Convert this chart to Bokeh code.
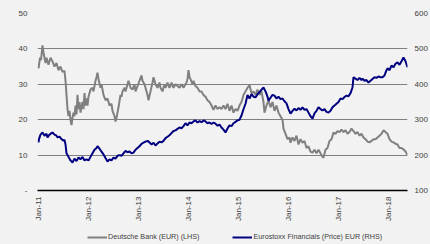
from math import pi
from bokeh.plotting import figure
from bokeh.layouts import column
from bokeh.models import Range1d, LinearAxis, FixedTicker, Legend, LegendItem
from bokeh.embed import file_html
from bokeh.resources import INLINE

# ---- data (decimal years) ----
db_t = [2011.00, 2011.02, 2011.03, 2011.05, 2011.08, 2011.10, 2011.14, 2011.16, 2011.20, 2011.24,
        2011.28, 2011.32, 2011.36, 2011.40, 2011.44, 2011.48, 2011.52, 2011.54, 2011.56, 2011.58,
        2011.60, 2011.62, 2011.64, 2011.66, 2011.68, 2011.70, 2011.72, 2011.74, 2011.76, 2011.78,
        2011.80, 2011.82, 2011.84, 2011.88, 2011.90, 2011.92, 2011.94, 2011.96, 2011.98, 2012.00,
        2012.04, 2012.08, 2012.10, 2012.14, 2012.16, 2012.18, 2012.20, 2012.24, 2012.26, 2012.30,
        2012.34, 2012.38, 2012.42, 2012.46, 2012.48, 2012.52, 2012.54, 2012.56, 2012.58, 2012.60,
        2012.64, 2012.66, 2012.68, 2012.72, 2012.74, 2012.78, 2012.80, 2012.84, 2012.88, 2012.92,
        2012.94, 2012.98, 2013.02, 2013.06, 2013.08, 2013.12, 2013.14, 2013.18, 2013.20, 2013.24,
        2013.28, 2013.30, 2013.34, 2013.38, 2013.42, 2013.44, 2013.48, 2013.52, 2013.54, 2013.58,
        2013.62, 2013.66, 2013.70, 2013.74, 2013.78, 2013.82, 2013.86, 2013.90, 2013.94, 2013.96,
        2013.98, 2014.00, 2014.02, 2014.04, 2014.08, 2014.10, 2014.14, 2014.18, 2014.22, 2014.26,
        2014.30, 2014.34, 2014.38, 2014.42, 2014.46, 2014.50, 2014.54, 2014.58, 2014.62, 2014.66,
        2014.70, 2014.74, 2014.78, 2014.82, 2014.86, 2014.90, 2014.94, 2014.98, 2015.02, 2015.06,
        2015.10, 2015.14, 2015.18, 2015.22, 2015.26, 2015.30, 2015.34, 2015.38, 2015.42, 2015.46,
        2015.50, 2015.52, 2015.56, 2015.60, 2015.64, 2015.68, 2015.72, 2015.76, 2015.80, 2015.84,
        2015.88, 2015.90, 2015.94, 2015.98, 2016.02, 2016.04, 2016.08, 2016.12, 2016.16, 2016.20,
        2016.24, 2016.28, 2016.32, 2016.36, 2016.40, 2016.44, 2016.48, 2016.52, 2016.56, 2016.60,
        2016.64, 2016.68, 2016.70, 2016.74, 2016.78, 2016.82, 2016.86, 2016.90, 2016.94, 2016.98,
        2017.02, 2017.06, 2017.10, 2017.14, 2017.18, 2017.22, 2017.26, 2017.30, 2017.34, 2017.38,
        2017.42, 2017.46, 2017.50, 2017.54, 2017.58, 2017.62, 2017.66, 2017.70, 2017.74, 2017.78,
        2017.82, 2017.86, 2017.90, 2017.94, 2017.98, 2018.02, 2018.06, 2018.10, 2018.14, 2018.18,
        2018.22, 2018.26, 2018.30, 2018.34, 2018.38]
db_v = [34.5, 36.5, 37.5, 36.8, 41.0, 39.0, 36.0, 37.5, 35.5, 37.5,
        36.5, 35.0, 36.0, 34.0, 35.0, 33.5, 33.8, 31.0, 27.0, 23.0,
        21.0, 22.5, 20.0, 18.5, 20.5, 22.0, 21.0, 24.0, 21.5, 27.0,
        23.0, 25.0, 22.0, 25.0, 23.0, 27.5, 24.0, 26.0, 24.0, 26.5,
        28.5, 29.0, 28.0, 31.0, 32.0, 33.3, 31.5, 29.0, 30.0, 27.0,
        25.5, 26.0, 24.0, 24.5, 22.5, 21.0, 19.5, 20.5, 22.0, 23.5,
        27.0, 26.5, 28.0, 29.0, 28.0, 30.0, 31.0, 29.0, 28.5, 30.0,
        28.0, 29.5, 31.0, 32.5, 31.0, 30.0, 29.0, 27.0, 25.5, 28.0,
        30.5, 32.0, 30.0, 29.0, 30.5, 29.0, 28.0, 30.0, 29.0, 30.5,
        29.0, 30.5, 29.0, 30.0, 29.5, 29.0, 30.0, 29.0, 30.0, 30.5,
        31.5, 34.0, 32.0, 31.5, 30.0, 31.0, 29.5, 29.0, 28.0, 28.0,
        27.0, 26.5, 25.5, 25.0, 24.0, 22.8, 24.0, 23.0, 23.5, 23.0,
        24.0, 23.0, 24.5, 22.5, 24.0, 22.0, 23.0, 22.5, 24.0, 25.0,
        27.0, 28.0, 29.0, 29.8, 27.5, 28.0, 27.0, 28.5, 27.0, 28.0,
        25.0, 22.0, 24.0, 25.5, 23.5, 25.0, 22.5, 24.0, 22.0, 21.0,
        20.0, 17.5, 16.0, 14.5, 15.0, 13.5, 15.0, 14.0, 15.5, 13.0,
        14.5, 13.5, 14.0, 12.0, 12.5, 11.0, 10.7, 11.5, 10.5, 11.5,
        10.5, 9.5, 9.3, 11.5, 12.0, 14.0, 14.5, 16.4, 16.0, 16.8,
        16.5, 17.2, 16.5, 17.0, 16.0, 16.5, 17.5, 16.8, 16.0, 16.5,
        15.5, 16.0, 15.0, 14.5, 13.8, 13.6, 14.0, 14.5, 14.5, 15.0,
        15.5, 16.0, 17.0, 16.5, 16.0, 14.5, 13.8, 13.6, 13.2, 13.0,
        12.0, 12.0, 11.6, 11.0, 10.0]

es_t = [2011.00, 2011.01, 2011.04, 2011.08, 2011.12, 2011.16, 2011.18, 2011.22, 2011.26, 2011.28,
        2011.32, 2011.36, 2011.38, 2011.42, 2011.46, 2011.50, 2011.52, 2011.54, 2011.56, 2011.60,
        2011.64, 2011.68, 2011.72, 2011.76, 2011.80, 2011.84, 2011.88, 2011.92, 2011.96, 2012.00,
        2012.04, 2012.08, 2012.12, 2012.16, 2012.18, 2012.22, 2012.26, 2012.30, 2012.34, 2012.38,
        2012.42, 2012.46, 2012.50, 2012.54, 2012.58, 2012.62, 2012.66, 2012.70, 2012.74, 2012.78,
        2012.82, 2012.86, 2012.90, 2012.94, 2012.98, 2013.02, 2013.06, 2013.10, 2013.14, 2013.18,
        2013.22, 2013.26, 2013.30, 2013.34, 2013.38, 2013.42, 2013.46, 2013.50, 2013.54, 2013.58,
        2013.62, 2013.66, 2013.70, 2013.74, 2013.78, 2013.82, 2013.86, 2013.90, 2013.94, 2013.98,
        2014.02, 2014.06, 2014.10, 2014.14, 2014.18, 2014.22, 2014.26, 2014.30, 2014.34, 2014.38,
        2014.42, 2014.46, 2014.50, 2014.54, 2014.58, 2014.62, 2014.66, 2014.70, 2014.74, 2014.78,
        2014.82, 2014.86, 2014.90, 2014.94, 2014.98, 2015.02, 2015.06, 2015.10, 2015.14, 2015.18,
        2015.22, 2015.26, 2015.30, 2015.34, 2015.38, 2015.42, 2015.46, 2015.50, 2015.54, 2015.58,
        2015.60, 2015.64, 2015.68, 2015.72, 2015.76, 2015.80, 2015.84, 2015.88, 2015.92, 2015.96,
        2016.00, 2016.04, 2016.08, 2016.12, 2016.16, 2016.20, 2016.24, 2016.28, 2016.32, 2016.36,
        2016.40, 2016.44, 2016.48, 2016.52, 2016.56, 2016.60, 2016.64, 2016.68, 2016.72, 2016.76,
        2016.80, 2016.84, 2016.88, 2016.92, 2016.96, 2017.00, 2017.04, 2017.08, 2017.12, 2017.16,
        2017.20, 2017.24, 2017.28, 2017.30, 2017.34, 2017.38, 2017.42, 2017.46, 2017.48, 2017.52,
        2017.56, 2017.60, 2017.64, 2017.68, 2017.72, 2017.76, 2017.80, 2017.84, 2017.88, 2017.92,
        2017.96, 2017.98, 2018.02, 2018.06, 2018.10, 2018.14, 2018.18, 2018.22, 2018.26, 2018.30,
        2018.34, 2018.38]
es_v = [236, 245, 258, 264, 255, 260, 250, 258, 262, 264,
        258, 255, 250, 252, 245, 241, 243, 230, 205, 195,
        185, 179, 190, 183, 193, 188, 195, 185, 188, 185,
        195, 205, 215, 220, 225, 218, 210, 202, 192, 182,
        188, 185, 193, 190, 198, 200, 198, 205, 212, 208,
        210, 205, 207, 215, 220, 225, 232, 235, 238, 240,
        236, 230, 235, 227, 233, 238, 236, 240, 248, 252,
        256, 262, 268, 270, 274, 278, 276, 282, 290, 284,
        292, 290, 295, 298, 292, 296, 293, 298, 295, 290,
        292, 288, 292, 289, 283, 286, 278, 272, 264, 275,
        284, 282, 290, 294, 298, 300, 312, 330, 345, 370,
        360, 372, 365, 363, 372, 378, 385, 391, 380, 365,
        354, 362, 370, 368, 360, 365, 358, 360, 352, 346,
        330, 317, 325, 331, 326, 333, 328, 335, 328, 330,
        320, 310, 303, 318, 325, 335, 330, 326, 330, 322,
        320, 325, 335, 340, 345, 350, 360, 358, 364, 368,
        366, 375, 391, 420, 416, 412, 418, 412, 416, 410,
        412, 405, 410, 415, 420, 418, 422, 420, 420, 425,
        440, 445, 440, 453, 448, 458, 462, 455, 465, 476,
        465, 448]

x_ticks = [2011, 2012, 2013, 2014, 2015, 2016, 2017, 2018]
x_labels = ["Jan-11", "Jan-12", "Jan-13", "Jan-14", "Jan-15", "Jan-16", "Jan-17", "Jan-18"]
left_ticks = [0, 10, 20, 30, 40, 50]
left_labels = ["-", "10", "20", "30", "40", "50"]
right_ticks = [100, 200, 300, 400, 500, 600]
db_name = "Deutsche Bank (EUR) (LHS)"
es_name = "Eurostoxx Financials (Price) EUR (RHS)"

BG = "#f2f2f2"
FONT = "Liberation Sans"
TXT = "#404040"
DB_COL = "#808080"
ES_COL = "#000080"

p = figure(width=430, height=228, output_backend="svg", toolbar_location=None,
           x_range=Range1d(2010.98, 2018.38), y_range=Range1d(0, 50),
           min_border_left=37, min_border_right=23, min_border_top=13, min_border_bottom=38,
           background_fill_color=BG, border_fill_color=BG, outline_line_color=None)
p.extra_y_ranges = {"r": Range1d(100, 600)}

p.xgrid.visible = False
p.ygrid.ticker = FixedTicker(ticks=left_ticks)
p.ygrid.grid_line_color = "#7f7f7f"
p.ygrid.grid_line_width = 1


def style_axis(ax, standoff):
    ax.axis_line_color = None
    ax.major_tick_line_color = None
    ax.minor_tick_line_color = None
    ax.major_tick_out = 0
    ax.major_tick_in = 0
    ax.minor_tick_out = 0
    ax.minor_tick_in = 0
    ax.major_label_standoff = standoff
    ax.major_label_text_font = FONT
    ax.major_label_text_font_size = "8px"
    ax.major_label_text_color = TXT


# left axis
ya = p.yaxis[0]
ya.ticker = FixedTicker(ticks=left_ticks)
ya.major_label_overrides = {t: l for t, l in zip(left_ticks, left_labels)}
style_axis(ya, 10)

# right axis
ra = LinearAxis(y_range_name="r", ticker=FixedTicker(ticks=right_ticks))
style_axis(ra, 7)
p.add_layout(ra, "right")

# x axis
xa = p.xaxis[0]
xa.ticker = FixedTicker(ticks=x_ticks)
xa.major_label_overrides = {t: l for t, l in zip(x_ticks, x_labels)}
xa.major_label_orientation = pi / 2
style_axis(xa, 6)
xa.axis_line_color = "black"
xa.axis_line_width = 1.5

p.line(db_t, db_v, line_color=DB_COL, line_width=2)
p.line(es_t, es_v, line_color=ES_COL, line_width=2, y_range_name="r")

# legend strip (separate small figure; its renderers hold no visible data)
nan = float("nan")
q = figure(width=430, height=16, output_backend="svg", toolbar_location=None,
           x_range=Range1d(0, 1), y_range=Range1d(0, 1),
           x_axis_location=None, y_axis_location=None,
           min_border_left=0, min_border_right=0, min_border_top=0, min_border_bottom=0,
           background_fill_color=BG, border_fill_color=BG, outline_line_color=None)
q.xgrid.visible = False
q.ygrid.visible = False
k1 = q.line(x=[nan, nan], y=[nan, nan], line_color=DB_COL, line_width=2)
k2 = q.line(x=[nan, nan], y=[nan, nan], line_color=ES_COL, line_width=2)
legend = Legend(items=[LegendItem(label=db_name, renderers=[k1]),
                       LegendItem(label=es_name, renderers=[k2])],
                orientation="horizontal", location=(50, 3),
                background_fill_alpha=0, border_line_color=None,
                label_text_font=FONT, label_text_font_size="7.2px", label_text_color=TXT,
                glyph_width=20, glyph_height=8, label_standoff=1, spacing=33,
                padding=0, margin=0, label_height=8)
q.add_layout(legend, "center")

layout = column(p, q, spacing=0)
html = file_html(layout, INLINE)
html = html.replace("<head>", "<head><style>html,body{background:#f2f2f2;}</style>", 1)
open("out.html", "w").write(html)
